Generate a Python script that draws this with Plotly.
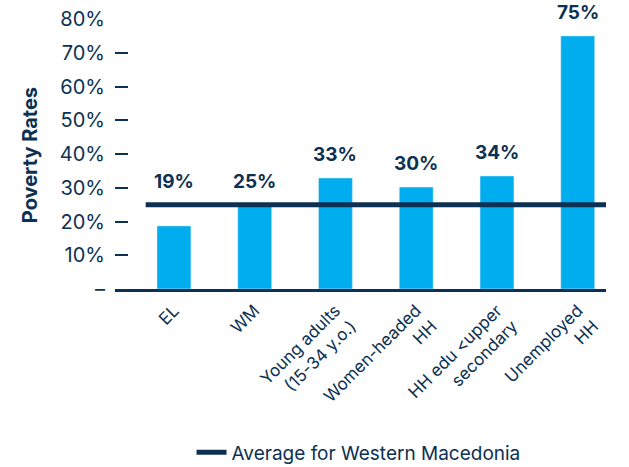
import plotly.graph_objects as go

categories = ["EL", "WM", "Young adults<br>(15-34 y.o.)", "Women-headed<br>HH", "HH edu <upper<br>secondary", "Unemployed<br>HH"]
values = [18.7, 24.9, 32.9, 30.2, 33.5, 75.0]
labels = ["19%", "25%", "33%", "30%", "34%", "75%"]
average = 25.0
avg_name = "Average for Western Macedonia"
y_title = "Poverty Rates"
y_ticks = [0, 10, 20, 30, 40, 50, 60, 70, 80]
y_ticktext = ["–", "10%", "20%", "30%", "40%", "50%", "60%", "70%", "80%"]

NAVY = "#0C3152"
BLUE = "#00AEEF"
FONT = "Inter"

xs = list(range(len(categories)))

fig = go.Figure()
fig.add_trace(go.Bar(x=xs, y=values, marker_color=BLUE, width=0.42, showlegend=False))
fig.add_trace(go.Scatter(x=[-0.35, 5.35], y=[average, average], mode="lines",
                         line=dict(color=NAVY, width=5), name=avg_name))

for x, v, t in zip(xs, values, labels):
    fig.add_annotation(x=x, y=max(v, average), text=t, showarrow=False, yanchor="bottom", yshift=10,
                       font=dict(family=FONT, size=19, color=NAVY, weight="bold"))

fig.add_annotation(xref="paper", yref="paper", x=-0.173, y=0.496, text="<b>" + y_title + "</b>",
                   textangle=-90, showarrow=False, xanchor="center", yanchor="middle",
                   font=dict(family=FONT, size=20, color=NAVY))

fig.update_layout(
    width=629, height=467,
    margin=dict(l=115, r=23, t=19, b=178, autoexpand=False),
    plot_bgcolor="white", paper_bgcolor="white",
    font=dict(family=FONT, color=NAVY),
    bargap=0.5,
    legend=dict(orientation="h", x=0.496, xanchor="center", y=-0.605, yanchor="middle",
                font=dict(size=19, color=NAVY, family=FONT)),
)
fig.update_xaxes(tickvals=xs, ticktext=categories, range=[-0.73, 5.35],
                 tickangle=-45, tickfont=dict(size=17, color=NAVY, family=FONT),
                 showline=True, linecolor=NAVY, linewidth=3, ticks="", showgrid=False,
                 ticklabelstandoff=2, ticklabeloverflow="allow")
fig.update_yaxes(range=[0, 80], tickvals=y_ticks, ticktext=y_ticktext,
                 tickfont=dict(size=20, color=NAVY, family=FONT),
                 ticks="inside", ticklen=13, tickwidth=1.5, tickcolor=NAVY,
                 ticklabelstandoff=9, showgrid=False, zeroline=False, showline=False,
                 ticklabeloverflow="allow")

fig.write_html("out.html", config={"displayModeBar": False},
               post_script="document.body.style.margin='0';")
